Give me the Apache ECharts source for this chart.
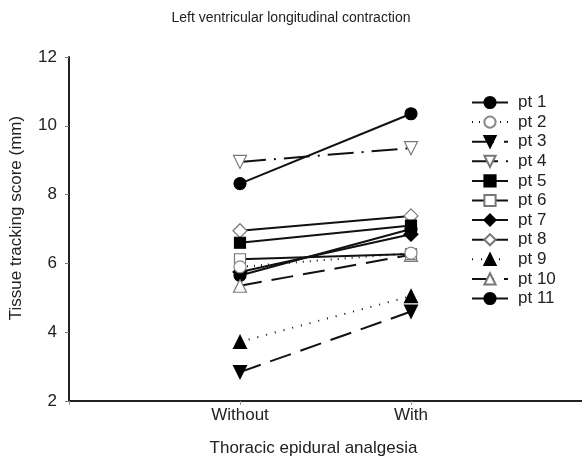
<!DOCTYPE html>
<html>
<head>
<meta charset="utf-8">
<script src="https://cdn.jsdelivr.net/npm/echarts@6/dist/echarts.min.js"></script>
<style>html,body{margin:0;padding:0;background:#fff}#c{width:582px;height:460px}</style>
</head>
<body>
<div id="c"></div>
<script>
var categories = ['Without', 'With'];
var patients = ['pt 1','pt 2','pt 3','pt 4','pt 5','pt 6','pt 7','pt 8','pt 9','pt 10','pt 11'];
var withoutTEA = [8.32, 5.9, 2.84, 8.95, 6.6, 6.12, 5.75, 6.95, 3.72, 5.35, 5.65];
var withTEA    = [10.35, 6.3, 4.6, 9.35, 7.1, 6.27, 6.85, 7.38, 5.05, 6.25, 7.0];
var yTicks = [2, 4, 6, 8, 10, 12];

var DOWN = 'path://M0,0 L10,0 L5,9 Z';
var UP = 'path://M5,0 L10,9 L0,9 Z';
var styles = [
  {symbol:'circle', fill:'#000', border:'#000', dash:'solid', size:12},
  {symbol:'circle', fill:'#fff', border:'#888', dash:[1,6], size:12},
  {symbol:DOWN, fill:'#000', border:'#000', dash:[22,10], size:13},
  {symbol:DOWN, fill:'#fff', border:'#777', dash:[26,8,2,8], size:13},
  {symbol:'rect', fill:'#000', border:'#000', dash:'solid', size:11},
  {symbol:'rect', fill:'#fff', border:'#777', dash:'solid', size:11},
  {symbol:'diamond', fill:'#000', border:'#000', dash:'solid', size:14},
  {symbol:'diamond', fill:'#fff', border:'#777', dash:'solid', size:14},
  {symbol:UP, fill:'#000', border:'#000', dash:[1,8], size:13},
  {symbol:UP, fill:'#fff', border:'#777', dash:[22,10], size:13},
  {symbol:'circle', fill:'#000', border:'#000', dash:'solid', size:12}
];

var series = patients.map(function(name, i){
  var s = styles[i];
  return {
    name: name,
    type: 'line',
    data: [[1, withoutTEA[i]], [2, withTEA[i]]],
    symbol: s.symbol,
    symbolSize: s.size,
    lineStyle: {color:'#111', width:2, type: s.dash},
    itemStyle: {color: s.fill, borderColor: s.border, borderWidth: 1.2},
    emphasis: {disabled:true},
    z: 20 - i
  };
});

var font = '"Liberation Sans", Arial, sans-serif';
var chart = echarts.init(document.getElementById('c'));
chart.setOption({
  animation: false,
  backgroundColor: '#fff',
  textStyle: {fontFamily: font},
  title: {
    text: 'Left ventricular longitudinal contraction',
    left: 'center', top: 6,
    textStyle: {fontSize: 14, fontWeight: 'normal', color: '#222', fontFamily: font}
  },
  legend: {
    orient: 'vertical',
    left: 466, top: 89,
    itemWidth: 36, itemHeight: 14, itemGap: 2.6,
    textStyle: {fontSize: 17, color: '#222', fontFamily: font, padding: [0,0,0,5]},
    data: patients
  },
  grid: {left: 69, right: 0, top: 57, bottom: 59, containLabel: false, outerBoundsMode: 'none'},
  xAxis: {
    type: 'value', min: 0, max: 3, interval: 1,
    name: 'Thoracic epidural analgesia',
    nameLocation: 'middle', nameGap: 39,
    nameTextStyle: {fontSize: 17, color: '#222', padding: [0, 24, 0, 0]},
    axisLine: {lineStyle: {color: '#222', width: 2}},
    axisTick: {show: true, length: 4, lineStyle: {color: '#999'}},
    splitLine: {show: false},
    axisLabel: {
      fontSize: 17, color: '#222', margin: 6,
      formatter: function(v){ return (v >= 1 && v <= 2) ? categories[v-1] : ''; }
    }
  },
  yAxis: {
    type: 'value', min: yTicks[0], max: yTicks[yTicks.length-1], interval: 2,
    name: 'Tissue tracking score (mm)',
    nameLocation: 'middle', nameGap: 44,
    nameTextStyle: {fontSize: 17, color: '#222', padding: [0, 0, 0, 22]},
    axisLine: {show: true, lineStyle: {color: '#222', width: 2}},
    axisTick: {show: true, length: 4, lineStyle: {color: '#777'}},
    splitLine: {show: false},
    axisLabel: {fontSize: 17, color: '#222', margin: 12}
  },
  series: series
});
</script>
</body>
</html>
